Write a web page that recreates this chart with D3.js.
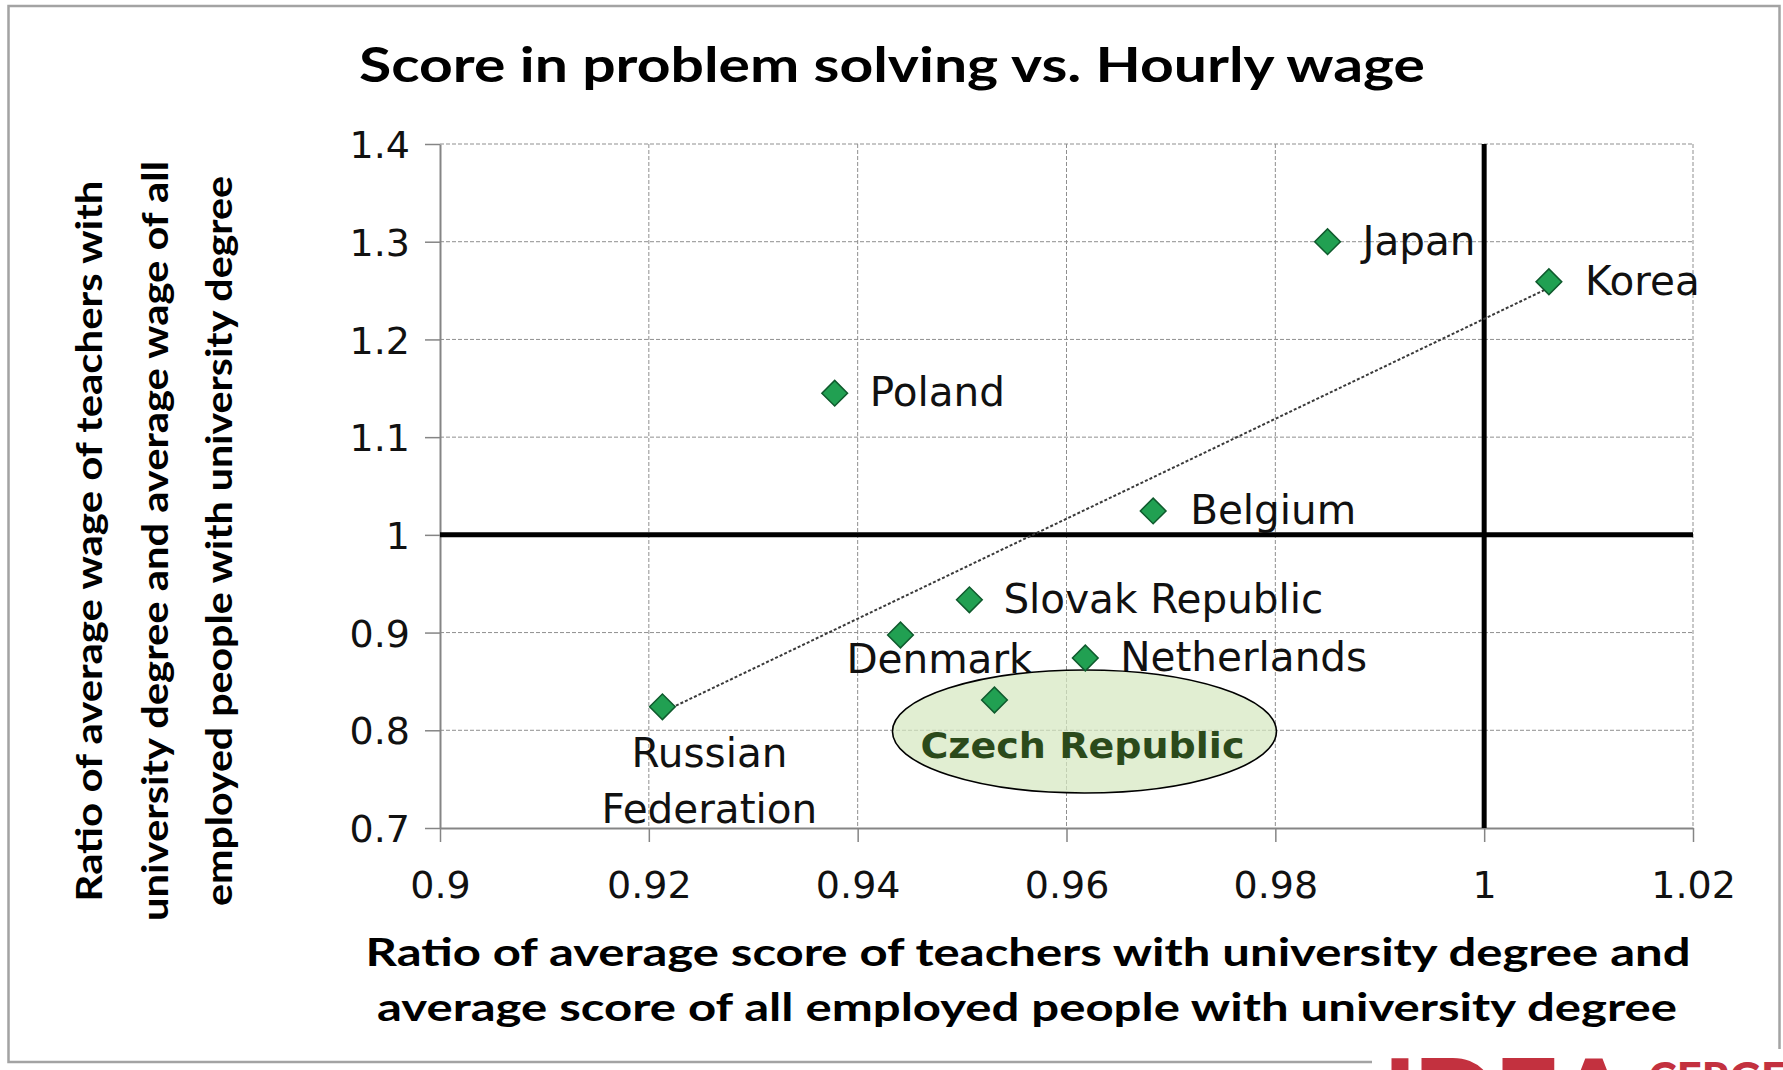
<!DOCTYPE html>
<html>
<head>
<meta charset="utf-8">
<script src="https://cdn.jsdelivr.net/npm/d3@7"></script>
<style>
  html, body { margin: 0; padding: 0; background: #fff; }
  svg { display: block; }
</style>
</head>
<body>
<svg id="chart" width="1783" height="1070"></svg>
<script>
// ---------------- DATA ----------------
const countries   = ["Japan", "Korea", "Poland", "Belgium", "Slovak Republic", "Denmark", "Netherlands", "Czech Republic", "Russian Federation"];
const scoreRatio  = [0.985, 1.0062, 0.9378, 0.9683, 0.9507, 0.9441, 0.9618, 0.9531, 0.9213];
const wageRatio   = [1.300, 1.259, 1.145, 1.0245, 0.9335, 0.8975, 0.874, 0.831, 0.824];
const xTicks      = [0.9, 0.92, 0.94, 0.96, 0.98, 1, 1.02];
const xTickLabels = ["0.9", "0.92", "0.94", "0.96", "0.98", "1", "1.02"];
const yTicks      = [0.7, 0.8, 0.9, 1, 1.1, 1.2, 1.3, 1.4];
const yTickLabels = ["0.7", "0.8", "0.9", "1", "1.1", "1.2", "1.3", "1.4"];
const refX = 1;   // thick vertical reference line
const refY = 1;   // thick horizontal reference line
const highlighted = "Czech Republic";
const chartTitle = "Score in problem solving vs. Hourly wage";
const xTitleLines = ["Ratio of average score of teachers with university degree and",
                     "average score of all employed people with university degree"];
const yTitleLines = ["Ratio of average wage of teachers with",
                     "university degree and average wage of all",
                     "employed people with university degree"];
const logoMain = "IDEA";
const logoSub = "CERGE";

// ---------------- LAYOUT ----------------
const W = 1783, H = 1070;
const plot = { left: 440, right: 1693, top: 144, bottom: 828 };
const svg = d3.select("#chart");

const x = d3.scaleLinear().domain([xTicks[0], xTicks[xTicks.length - 1]]).range([plot.left, plot.right]);
const y = d3.scaleLinear().domain([yTicks[0], yTicks[yTicks.length - 1]]).range([plot.bottom, plot.top]);

const data = countries.map((c, i) => ({ name: c, sx: scoreRatio[i], wy: wageRatio[i] }));

svg.append("rect").attr("width", W).attr("height", H).attr("fill", "#fff");

// outer frame
svg.append("rect")
  .attr("x", 8.5).attr("y", 6).attr("width", 1771).attr("height", 1056)
  .attr("fill", "none").attr("stroke", "#a3a3a3").attr("stroke-width", 2.5);

// title
svg.append("text")
  .attr("x", 892).attr("y", 82)
  .attr("text-anchor", "middle")
  .attr("font-family", "Lato, 'Open Sans', sans-serif")
  .attr("font-weight", 700)
  .attr("font-size", 48)
  .attr("textLength", 1066).attr("lengthAdjust", "spacingAndGlyphs")
  .attr("fill", "#000")
  .text(chartTitle);

// gridlines
const grid = svg.append("g").attr("stroke", "#8f8f8f").attr("stroke-width", 1).attr("stroke-dasharray", "4,2");
grid.selectAll("line.v").data(xTicks.slice(1)).join("line")
  .attr("x1", d => x(d)).attr("x2", d => x(d))
  .attr("y1", plot.top).attr("y2", plot.bottom);
grid.selectAll("line.h").data(yTicks.slice(1)).join("line")
  .attr("x1", plot.left).attr("x2", plot.right)
  .attr("y1", d => y(d)).attr("y2", d => y(d));

// axes
const tickFont = "'DejaVu Sans', Verdana, sans-serif";
const xAxis = svg.append("g")
  .attr("transform", `translate(0,${plot.bottom})`)
  .call(d3.axisBottom(x).tickValues(xTicks).tickFormat((d, i) => xTickLabels[i]).tickSize(14).tickSizeOuter(0));
xAxis.select(".domain").attr("stroke", "#858585").attr("stroke-width", 2);
xAxis.selectAll(".tick line").attr("stroke", "#858585").attr("stroke-width", 1.5);
xAxis.selectAll(".tick text")
  .attr("y", 70).attr("dy", null)
  .attr("font-family", tickFont).attr("font-size", 38).attr("fill", "#111");

const yAxis = svg.append("g")
  .attr("transform", `translate(${plot.left},0)`)
  .call(d3.axisLeft(y).tickValues(yTicks).tickFormat((d, i) => yTickLabels[i]).tickSize(15).tickSizeOuter(0));
yAxis.select(".domain").attr("stroke", "#858585").attr("stroke-width", 2);
yAxis.selectAll(".tick line").attr("stroke", "#858585").attr("stroke-width", 1.5);
yAxis.selectAll(".tick text")
  .attr("x", -30).attr("dy", "0.36em")
  .attr("font-family", tickFont).attr("font-size", 38).attr("fill", "#111");

// thick reference lines
svg.append("line")
  .attr("x1", x(refX)).attr("x2", x(refX))
  .attr("y1", y.range()[1]).attr("y2", y.range()[0])
  .attr("stroke", "#000").attr("stroke-width", 5);
svg.append("line")
  .attr("x1", x.range()[0]).attr("x2", x.range()[1])
  .attr("y1", y(refY)).attr("y2", y(refY))
  .attr("stroke", "#000").attr("stroke-width", 5);

// linear trend line (least squares fit of the data)
const mx = d3.mean(data, d => d.sx), my = d3.mean(data, d => d.wy);
const slope = d3.sum(data, d => (d.sx - mx) * (d.wy - my)) / d3.sum(data, d => (d.sx - mx) ** 2);
const icpt = my - slope * mx;
const [xmin, xmax] = d3.extent(data, d => d.sx);
svg.append("line")
  .attr("x1", x(xmin)).attr("y1", y(icpt + slope * xmin))
  .attr("x2", x(xmax)).attr("y2", y(icpt + slope * xmax))
  .attr("stroke", "#3a3a3a").attr("stroke-width", 2).attr("stroke-dasharray", "3,2");

// labels
const labelFont = "'DejaVu Sans', Verdana, sans-serif";
const placement = {
  "Japan":              { dx: 35, dy: 13, anchor: "start" },
  "Korea":              { dx: 36, dy: 13, anchor: "start" },
  "Poland":             { dx: 35, dy: 13, anchor: "start" },
  "Belgium":            { dx: 37, dy: 13, anchor: "start" },
  "Slovak Republic":    { dx: 34, dy: 13, anchor: "start" },
  "Netherlands":        { dx: 35, dy: 13, anchor: "start" },
  "Denmark":            { dx: 39, dy: 38, anchor: "middle" },
  "Russian Federation": { dx: 47, dy: 60, anchor: "middle", wrap: true, lineGap: 56 }
};
const labels = svg.append("g").attr("font-family", labelFont).attr("font-size", 40.5).attr("fill", "#111");
data.filter(d => d.name !== highlighted).forEach(d => {
  const p = placement[d.name];
  const t = labels.append("text")
    .attr("x", x(d.sx) + p.dx).attr("y", y(d.wy) + p.dy)
    .attr("text-anchor", p.anchor);
  if (p.wrap) {
    d.name.split(" ").forEach((w, i) => {
      t.append("tspan").attr("x", x(d.sx) + p.dx).attr("dy", i === 0 ? 0 : p.lineGap).text(w);
    });
  } else {
    t.text(d.name);
  }
});

// highlight ellipse for the Czech Republic
const hl = data.find(d => d.name === highlighted);
svg.append("ellipse")
  .attr("cx", x(hl.sx) + 90).attr("cy", y(hl.wy) + 31.5)
  .attr("rx", 192).attr("ry", 61.5)
  .attr("fill", "#d6e8c1").attr("fill-opacity", 0.72)
  .attr("stroke", "#000").attr("stroke-width", 1.6);

// markers
const diamond = d3.symbol().type(d3.symbolSquare).size(330);
svg.append("g").selectAll("path").data(data).join("path")
  .attr("d", diamond)
  .attr("transform", d => `translate(${x(d.sx)},${y(d.wy)}) rotate(45)`)
  .attr("fill", "#21a052").attr("stroke", "#0f5a2d").attr("stroke-width", 1.5);

// highlighted label
svg.append("text")
  .attr("x", x(hl.sx) + 88).attr("y", y(hl.wy) + 58)
  .attr("text-anchor", "middle")
  .attr("font-family", "'DejaVu Sans', Verdana, sans-serif")
  .attr("font-weight", 700).attr("font-size", 36)
  .attr("textLength", 324).attr("lengthAdjust", "spacingAndGlyphs")
  .attr("fill", "#2b4a1b")
  .text(highlighted);

// x-axis title
const xTitleGeom = [{ cx: 1028, base: 966, len: 1325 }, { cx: 1027, base: 1021, len: 1300 }];
xTitleLines.forEach((line, i) => {
  svg.append("text")
    .attr("x", xTitleGeom[i].cx).attr("y", xTitleGeom[i].base)
    .attr("text-anchor", "middle")
    .attr("font-family", "Lato, 'Open Sans', sans-serif")
    .attr("font-weight", 700).attr("font-size", 39)
    .attr("textLength", xTitleGeom[i].len).attr("lengthAdjust", "spacingAndGlyphs")
    .attr("fill", "#000")
    .text(line);
});

// y-axis title
const yTitleGeom = [{ cx: 89, len: 721 }, { cx: 155, len: 760 }, { cx: 219, len: 730 }];
yTitleLines.forEach((line, i) => {
  svg.append("text")
    .attr("transform", `translate(${yTitleGeom[i].cx},541) rotate(-90)`)
    .attr("dy", "0.36em")
    .attr("text-anchor", "middle")
    .attr("font-family", "Lato, 'Open Sans', sans-serif")
    .attr("font-weight", 700).attr("font-size", 36)
    .attr("textLength", yTitleGeom[i].len).attr("lengthAdjust", "spacingAndGlyphs")
    .attr("fill", "#000")
    .text(line);
});

// logo (cut off at the bottom edge, as in the source image)
svg.append("rect").attr("x", 1372).attr("y", 1049).attr("width", W - 1372).attr("height", H - 1049).attr("fill", "#fff");
svg.append("text")
  .attr("x", 1383).attr("y", 1140)
  .attr("font-family", "Lato, sans-serif").attr("font-weight", 900).attr("font-size", 112)
  .attr("textLength", 250).attr("lengthAdjust", "spacing")
  .attr("fill", "#c3313f")
  .text(logoMain);
svg.append("text")
  .attr("x", 1648).attr("y", 1094)
  .attr("font-family", "Lato, sans-serif").attr("font-weight", 900).attr("font-size", 44)
  .attr("textLength", 138).attr("lengthAdjust", "spacingAndGlyphs")
  .attr("fill", "#c3313f")
  .text(logoSub);
</script>
</body>
</html>
